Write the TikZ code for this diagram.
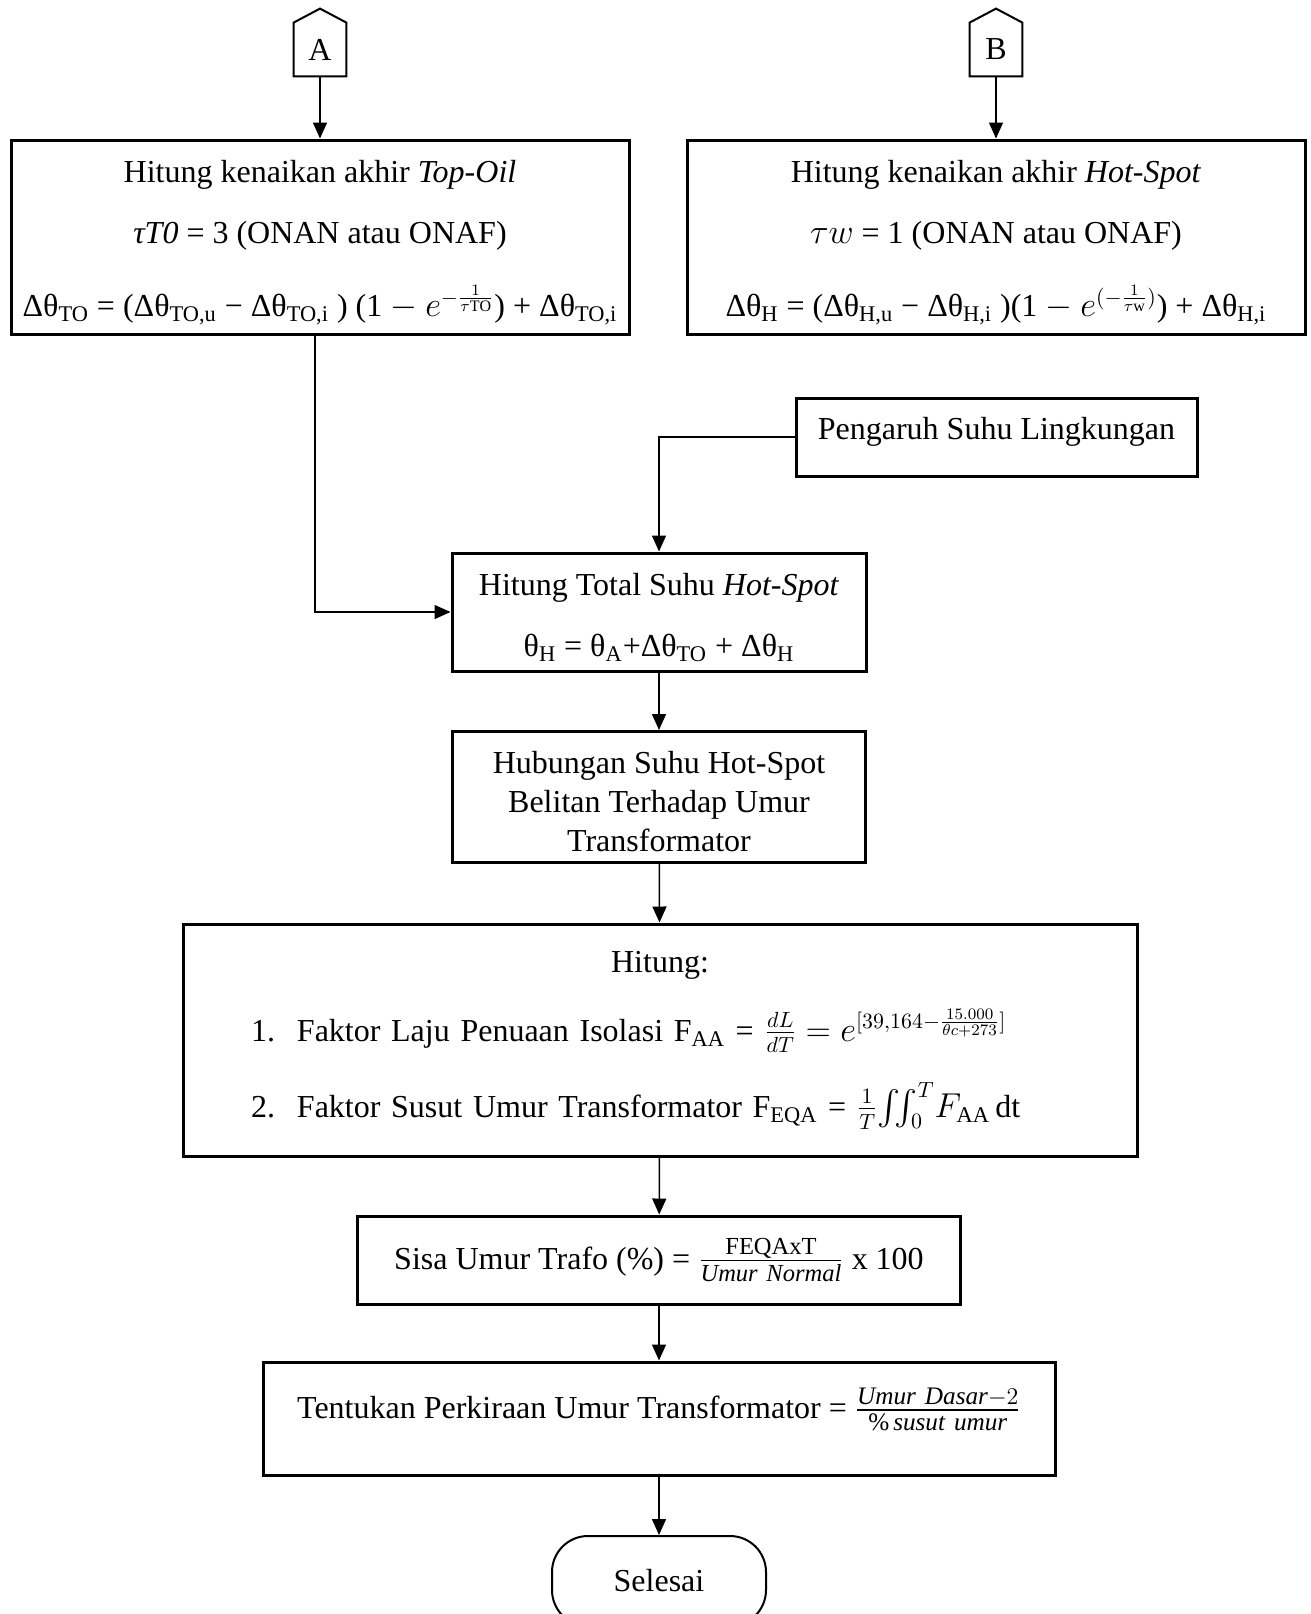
\documentclass[tikz,border=0pt]{standalone}
\usepackage{amsmath}
\usepackage{fontspec}
\setmainfont{Liberation Serif}
\usetikzlibrary{arrows.meta}

\tikzset{
  box/.style={draw, line width=1.5pt, align=center, inner sep=2pt,
    font=\fontsize{16}{19.5}\selectfont},
  term/.style={draw, line width=1pt, rounded corners=18pt, minimum width=107pt,
    minimum height=45pt, font=\fontsize{16}{19.5}\selectfont},
  tag/.style={minimum width=26pt, minimum height=26.5pt, inner sep=0pt,
    font=\fontsize{16}{19.5}\selectfont},
  conn/.style={line width=0.75pt, -{Triangle[length=8pt,width=7pt]}},
}

\begin{document}
\begin{tikzpicture}[x=0.5pt, y=-0.5pt]
 \useasboundingbox (0,0) rectangle (1311,1614);

 % off-page connectors
 \node[tag] (A) at (320,49.5) {A};
 \node[tag] (B) at (996,49.5) {B};
 \foreach \t in {A,B}
  \draw[line width=1pt] (\t.south west) -- (\t.north west) -- ([yshift=7pt]\t.north)
    -- (\t.north east) -- (\t.south east) -- cycle;

 \node[box, minimum width=309pt, minimum height=97pt] (topoil) at (320,237)
  {\rule{0pt}{17pt}Hitung kenaikan akhir \textit{Top-Oil}\\[11pt]
   \textit{τT0} = 3 (ONAN atau ONAF)\\[17pt]
   Δθ\textsubscript{TO} = (Δθ\textsubscript{TO,u} − Δθ\textsubscript{TO,i} ) (1 $-$ $e^{-\frac{1}{\tau\mathrm{TO}}}$) + Δθ\textsubscript{TO,i}};
 \node[box, minimum width=309pt, minimum height=97pt] (hotspot) at (996,237)
  {\rule{0pt}{17pt}Hitung kenaikan akhir \textit{Hot-Spot}\\[11pt]
   $\tau w$ = 1 (ONAN atau ONAF)\\[17pt]
   Δθ\textsubscript{H} = (Δθ\textsubscript{H,u} − Δθ\textsubscript{H,i} )(1 $-$ $e^{(-\frac{1}{\tau\mathrm{w}})}$) + Δθ\textsubscript{H,i}};

 \node[box, minimum width=200.5pt, minimum height=39pt, text depth=9pt] (ambient) at (996.5,437)
  {Pengaruh Suhu Lingkungan};
 \node[box, minimum width=207pt, minimum height=59pt] (total) at (659,612)
  {\rule{0pt}{16.5pt}Hitung Total Suhu \textit{Hot-Spot}\\[11pt]
   θ\textsubscript{H} = θ\textsubscript{A}+Δθ\textsubscript{TO} + Δθ\textsubscript{H}};
 \node[box, minimum width=206.5pt, minimum height=65.5pt] (relasi) at (659,797)
  {\rule{0pt}{15.5pt}Hubungan Suhu Hot-Spot\\ Belitan Terhadap Umur\\ Transformator};

 \node[box, align=left, text width=473pt, minimum height=116pt] (hitung) at (660,1040)
  {\makebox[473pt]{Hitung:}\\[15pt]
   \hspace*{32pt}\makebox[23pt][l]{1.}Faktor Laju Penuaan Isolasi F\textsubscript{AA} = $\frac{dL}{dT} = e^{[39{,}164-\frac{15.000}{\theta c+273}]}$\\[14pt]
   \hspace*{32pt}\makebox[23pt][l]{2.}Faktor Susut Umur Transformator F\textsubscript{EQA} = $\frac{1}{T}\!\iint_0^T\! F_{\text{AA}}$\,dt};

 \node[box, minimum width=301.5pt, minimum height=44pt] (sisa) at (659,1260)
  {Sisa Umur Trafo (\%) = {\fontsize{17.5}{19.5}\selectfont$\frac{\text{FEQAxT}}{\mathit{Umur\ Normal}}$} x 100};
 \node[box, minimum width=396pt, minimum height=56.5pt, text depth=15pt] (umur) at (659,1418.5)
  {Tentukan Perkiraan Umur Transformator = {\fontsize{18}{19.5}\selectfont$\frac{\mathit{Umur\ Dasar}-2}{\%\,\mathit{susut\ umur}}$}};
 \node[term] (selesai) at (659,1581) {Selesai};

 % connectors
 \draw[conn] (A) -- (topoil);
 \draw[conn] (B) -- (hotspot);
 \draw[conn] ([xshift=-2.5pt]topoil.south) |- (total.west);
 \draw[conn] (ambient.west) -| (total.north);
 \draw[conn] (total) -- (relasi);
 \draw[conn] (relasi) -- (hitung);
 \draw[conn] (hitung) -- (sisa);
 \draw[conn] (sisa) -- (umur);
 \draw[conn] (umur) -- (selesai);
\end{tikzpicture}
\end{document}
